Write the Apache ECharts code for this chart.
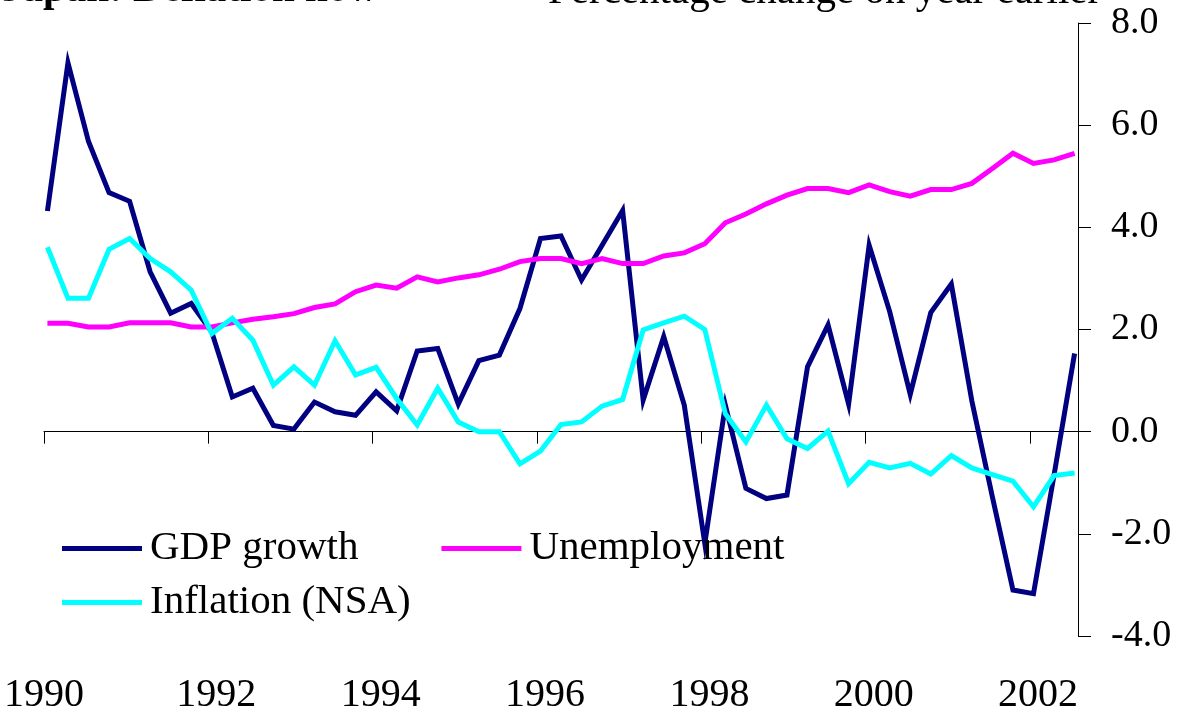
<!DOCTYPE html>
<html>
<head>
<meta charset="utf-8">
<script src="https://cdn.jsdelivr.net/npm/echarts@6/dist/echarts.min.js"></script>
<style>
  html, body { margin: 0; padding: 0; background: #fff; }
  #chart { width: 1179px; height: 715px; }
</style>
</head>
<body>
<div id="chart"></div>
<script>
// quarterly observations, 1990 Q1 - 2002 Q3
const quarters = [
  '1990 Q1', '1990 Q2', '1990 Q3', '1990 Q4',
  '1991 Q1', '1991 Q2', '1991 Q3', '1991 Q4',
  '1992 Q1', '1992 Q2', '1992 Q3', '1992 Q4',
  '1993 Q1', '1993 Q2', '1993 Q3', '1993 Q4',
  '1994 Q1', '1994 Q2', '1994 Q3', '1994 Q4',
  '1995 Q1', '1995 Q2', '1995 Q3', '1995 Q4',
  '1996 Q1', '1996 Q2', '1996 Q3', '1996 Q4',
  '1997 Q1', '1997 Q2', '1997 Q3', '1997 Q4',
  '1998 Q1', '1998 Q2', '1998 Q3', '1998 Q4',
  '1999 Q1', '1999 Q2', '1999 Q3', '1999 Q4',
  '2000 Q1', '2000 Q2', '2000 Q3', '2000 Q4',
  '2001 Q1', '2001 Q2', '2001 Q3', '2001 Q4',
  '2002 Q1', '2002 Q2', '2002 Q3'
];

const gdpGrowth = [
  4.32, 7.22, 5.68, 4.68, 4.51, 3.13, 2.32, 2.51,
  1.95, 0.68, 0.85, 0.12, 0.05, 0.58, 0.39, 0.32,
  0.78, 0.41, 1.58, 1.63, 0.54, 1.39, 1.50, 2.41,
  3.78, 3.83, 2.97, 3.65, 4.33, 0.62, 1.86, 0.52,
  -2.19, 0.52, -1.11, -1.31, -1.24, 1.27, 2.09, 0.54,
  3.65, 2.35, 0.73, 2.33, 2.89, 0.60, -1.28, -3.10,
  -3.17, -0.85, 1.53
];

const unemployment = [
  2.12, 2.12, 2.05, 2.05, 2.13, 2.13, 2.13, 2.05,
  2.05, 2.13, 2.20, 2.25, 2.31, 2.43, 2.50, 2.74,
  2.87, 2.81, 3.03, 2.93, 3.01, 3.07, 3.18, 3.33,
  3.39, 3.39, 3.29, 3.39, 3.29, 3.29, 3.44, 3.50,
  3.68, 4.09, 4.26, 4.46, 4.63, 4.76, 4.76, 4.68,
  4.83, 4.70, 4.61, 4.74, 4.74, 4.86, 5.15, 5.45,
  5.25, 5.32, 5.45
];

const inflation = [
  3.61, 2.61, 2.61, 3.57, 3.78, 3.39, 3.13, 2.77,
  1.92, 2.22, 1.79, 0.91, 1.27, 0.91, 1.78, 1.11,
  1.26, 0.65, 0.13, 0.85, 0.19, 0.00, 0.00, -0.63,
  -0.38, 0.14, 0.19, 0.50, 0.63, 1.99, 2.13, 2.26,
  2.00, 0.35, -0.20, 0.52, -0.14, -0.33, 0.01, -1.02,
  -0.60, -0.71, -0.62, -0.83, -0.47, -0.71, -0.84, -0.97,
  -1.47, -0.86, -0.81
];

const seriesNames = ['GDP growth', 'Unemployment', 'Inflation (NSA)'];
const seriesColors = ['#000080', '#FF00FF', '#00FFFF'];

const titleLeft = 'Japan: Deflation now';
const titleRight = 'Percentage change on year earlier';

const FONT = '"Liberation Serif", "Times New Roman", serif';

// quarter label -> position on a year scale (plotted early in the quarter)
function quarterToYear(label) {
  const [y, q] = label.split(' Q');
  return Number(y) + (Number(q) - 1) / 4 + 1 / 24;
}

function pairs(values) {
  return values.map((v, i) => [quarterToYear(quarters[i]), v]);
}

const chart = echarts.init(document.getElementById('chart'));

const xMin = 1990;
const xMax = 2002 + 7 / 12;

const series = [gdpGrowth, unemployment, inflation].map((vals, i) => ({
  name: seriesNames[i],
  type: 'line',
  xAxisIndex: 0,
  yAxisIndex: 0,
  data: pairs(vals),
  symbol: 'none',
  lineStyle: { color: seriesColors[i], width: 5, join: 'miter' },
  itemStyle: { color: seriesColors[i] },
  z: 2 + i,
}));

const legendBase = {
  orient: 'horizontal',
  left: 62,
  itemWidth: 80,
  itemHeight: 5,
  itemGap: 83,
  icon: 'rect',
  padding: 0,
  textStyle: {
    fontFamily: FONT,
    fontSize: 41,
    color: '#000',
    padding: [0, 0, 0, 3],
  },
};

chart.setOption({
  animation: false,
  backgroundColor: '#fff',
  grid: { left: 44, right: 101, top: 23, bottom: 79, containLabel: false },
  legend: [
    Object.assign({}, legendBase, { top: 528, data: [seriesNames[0], seriesNames[1]] }),
    Object.assign({}, legendBase, { top: 582, data: [seriesNames[2]] }),
  ],
  xAxis: [
    {
      // axis line through zero with downward ticks
      type: 'value',
      min: xMin,
      max: xMax,
      interval: 2,
      position: 'bottom',
      axisLine: { show: true, onZero: true, lineStyle: { color: '#000', width: 1 } },
      axisTick: { show: true, length: 12, inside: false, lineStyle: { color: '#000', width: 1 } },
      axisLabel: { show: false },
      splitLine: { show: false },
    },
    {
      // year labels along the bottom
      type: 'value',
      min: xMin,
      max: xMax,
      interval: 2,
      position: 'bottom',
      axisLine: { show: false, onZero: false },
      axisTick: { show: false },
      splitLine: { show: false },
      axisLabel: {
        show: true,
        margin: 39,
        fontFamily: FONT,
        fontSize: 40,
        color: '#000',
        showMaxLabel: false,
        formatter: (v) => {
          const y = Math.round(v);
          if (Math.abs(v - y) > 1e-6 || y % 2 !== 0) return '';
          return y === xMin ? '{a|' + y + '}' : '{b|' + y + '}';
        },
        rich: {
          a: { fontFamily: FONT, fontSize: 40, color: '#000' },
          b: { fontFamily: FONT, fontSize: 40, color: '#000', padding: [0, 0, 0, 16] },
        },
      },
    },
  ],
  yAxis: {
    type: 'value',
    position: 'right',
    min: -4,
    max: 8,
    interval: 2,
    axisLine: { show: true, lineStyle: { color: '#000', width: 1 } },
    axisTick: { show: true, length: 13, inside: false, lineStyle: { color: '#000', width: 1 } },
    splitLine: { show: false },
    axisLabel: {
      margin: 33,
      fontFamily: FONT,
      fontSize: 38,
      color: '#000',
      formatter: (v) => v.toFixed(1),
    },
  },
  graphic: [
    {
      type: 'text',
      x: 2,
      y: -30,
      style: { text: titleLeft, font: 'bold 41px ' + FONT, fill: '#000' },
    },
    {
      type: 'text',
      x: 548,
      y: -28,
      style: { text: titleRight, font: '41px ' + FONT, fill: '#000' },
    },
  ],
  series,
});
</script>
</body>
</html>
